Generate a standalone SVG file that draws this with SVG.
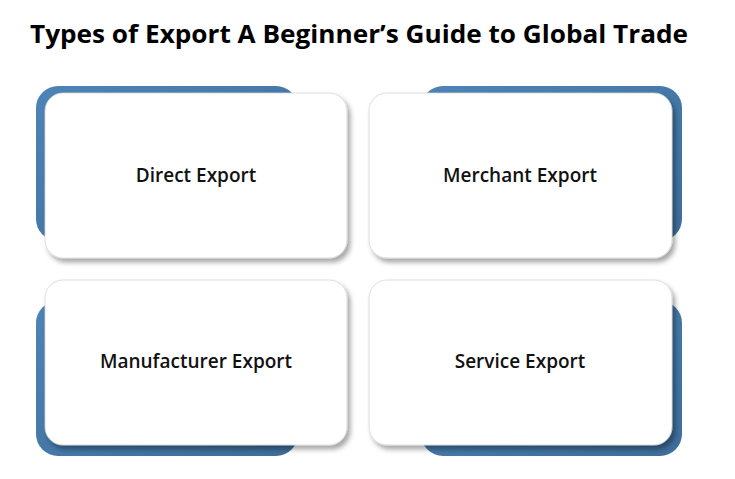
<svg xmlns="http://www.w3.org/2000/svg" width="735" height="479" viewBox="0 0 735 479">
<defs>
<filter id="sh" x="-10%" y="-10%" width="125%" height="130%">
<feDropShadow dx="3" dy="4" stdDeviation="2.5" flood-color="#000" flood-opacity="0.35"/>
</filter>
<linearGradient id="bl" x1="0" y1="0" x2="1" y2="1">
<stop offset="0" stop-color="#4d84b6"/>
<stop offset="1" stop-color="#3d6d9a"/>
</linearGradient>
</defs>
<style>
.back{fill:url(#bl)}
.card{fill:#ffffff;stroke:#d6d6d6;stroke-width:0.8;filter:url(#sh)}
.lbl{font-family:"Open Sans","Noto Sans","Liberation Sans",sans-serif;font-size:19px;font-weight:600;fill:#111;text-anchor:middle}
.title{font-family:"Open Sans","Noto Sans","Liberation Sans",sans-serif;font-size:25px;font-weight:700;fill:#000}
</style>
<rect width="735" height="479" fill="#ffffff"/>
<text class="title" x="30" y="43" textLength="658" lengthAdjust="spacingAndGlyphs">Types of Export A Beginner’s Guide to Global Trade</text>
<g id="node-direct">
<rect class="back" x="36" y="86" width="262" height="155" rx="22"/>
<rect class="card" x="45" y="93" width="302" height="165" rx="18"/>
<text class="lbl" x="196" y="182">Direct Export</text>
</g>
<g id="node-merchant">
<rect class="back" x="421" y="86" width="261" height="155" rx="22"/>
<rect class="card" x="369" y="93" width="303" height="165" rx="18"/>
<text class="lbl" x="520" y="182">Merchant Export</text>
</g>
<g id="node-manufacturer">
<rect class="back" x="36" y="301" width="262" height="155" rx="22"/>
<rect class="card" x="45" y="280" width="302" height="165" rx="18"/>
<text class="lbl" x="196" y="368">Manufacturer Export</text>
</g>
<g id="node-service">
<rect class="back" x="421" y="301" width="261" height="155" rx="22"/>
<rect class="card" x="369" y="280" width="303" height="165" rx="18"/>
<text class="lbl" x="520" y="368">Service Export</text>
</g>
<g id="connectors"></g>
</svg>
